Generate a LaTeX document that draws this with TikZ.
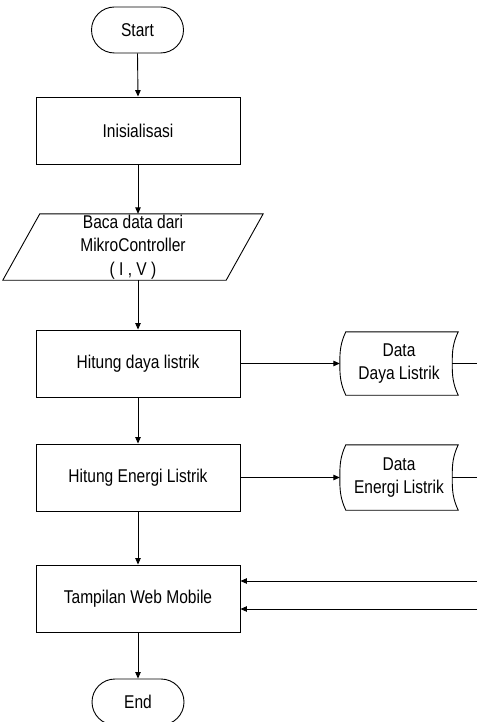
\documentclass[tikz,border=0pt]{standalone}
\usepackage{fontspec}
\setmainfont{Liberation Sans}[FakeStretch=0.84]
\usetikzlibrary{arrows.meta,calc}
\begin{document}
\begin{tikzpicture}[x=1pt,y=-1pt,
  every node/.style={font=\fontsize{18.5}{23.5}\selectfont, align=center, inner sep=0pt},
  line/.style={draw=black, line width=0.9pt},
  arr/.style={line, -{Triangle[length=6.5pt,width=5.5pt]}},
  procbox/.style={line, rectangle, minimum width=204pt, minimum height=67pt},
  termbox/.style={line, rectangle, rounded corners=23pt, minimum width=92pt, minimum height=46pt},
  plain/.style={rectangle, inner sep=0pt}
]
\useasboundingbox (0,0) rectangle (477,722);

\node[termbox] (start) at (137.5,30) {Start};
\node[procbox] (init) at (138,130.5) {Inisialisasi};
\node[plain, minimum width=223pt, minimum height=66pt] (baca) at (133,247) {Baca data dari\\MikroController\\( I , V )};
\draw[line] ([xshift=18.5pt]baca.north west) -- ([xshift=18.5pt]baca.north east)
  -- ([xshift=-18.5pt]baca.south east) -- ([xshift=-18.5pt]baca.south west) -- cycle;
\node[procbox] (hd) at (138,363.5) {Hitung daya listrik};
\node[procbox] (he) at (138,477.5) {Hitung Energi Listrik};
\node[procbox] (tw) at (138,598.5) {Tampilan Web Mobile};
\node[termbox] (end) at (138,702) {End};

\node[plain, minimum width=118pt, minimum height=63pt] (dd) at (399,363.5) {Data\\Daya Listrik};
\node[plain, minimum width=118pt, minimum height=65pt] (de) at (399,477.5) {Data\\Energi Listrik};
\foreach \n in {dd,de}{
  \draw[line] ([xshift=6pt]\n.north west) -- (\n.north east)
    to[out=-115,in=90] ([xshift=-6pt]\n.east)
    to[out=-90,in=115] (\n.south east)
    -- ([xshift=6pt]\n.south west)
    to[out=115,in=-90] (\n.west)
    to[out=90,in=-115] cycle;
}

\coordinate (ddout) at (477,363.5);
\coordinate (deout) at (477,477.5);
\coordinate (tin1) at (477,581);
\coordinate (tin2) at (477,609);

\draw[arr] (start.south) -- (init.north);
\draw[arr] (init.south) -- (init.south |- baca.north);
\draw[arr] (init.south |- baca.south) -- (hd.north);
\draw[arr] (hd.south) -- (he.north);
\draw[arr] (he.south) -- (tw.north);
\draw[arr] (tw.south) -- (end.north);
\draw[arr] (hd.east) -- (dd.west);
\draw[arr] (he.east) -- (de.west);
\draw[line] ([xshift=-6pt]dd.east) -- (ddout);
\draw[line] ([xshift=-6pt]de.east) -- (deout);
\draw[arr] (tin1) -- (tw.east |- tin1);
\draw[arr] (tin2) -- (tw.east |- tin2);
\end{tikzpicture}
\end{document}
